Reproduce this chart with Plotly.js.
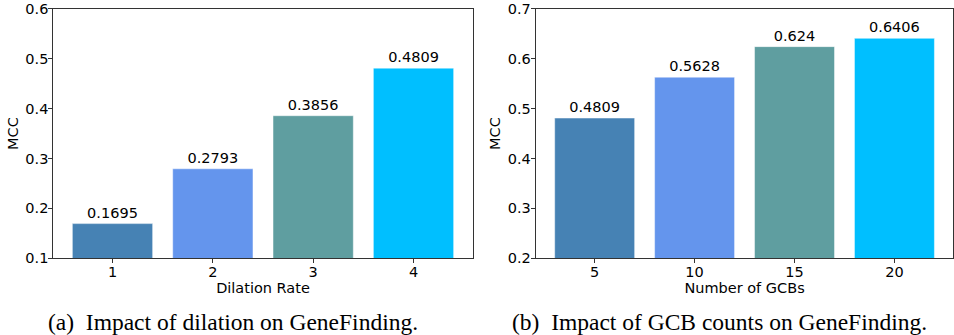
<!DOCTYPE html>
<html>
<head>
<meta charset="utf-8">
<script src="https://cdn.plot.ly/plotly-3.0.1.min.js"></script>
<style>html,body{margin:0;padding:0;background:#fff;}#chart{width:954px;height:335px;}</style>
</head>
<body>
<div id="chart"></div>
<script>
// Data
const dilationRates = ['1', '2', '3', '4'];
const dilationMCC = [0.1695, 0.2793, 0.3856, 0.4809];
const gcbCounts = ['5', '10', '15', '20'];
const gcbMCC = [0.4809, 0.5628, 0.624, 0.6406];
const dilationLabels = ['0.1695', '0.2793', '0.3856', '0.4809'];
const gcbLabels = ['0.4809', '0.5628', '0.624', '0.6406'];
const barColors = ['#4682B4', '#6495ED', '#5F9EA0', '#00BFFF'];
const captionA = '(a)\u00a0\u00a0Impact of dilation on GeneFinding.';
const captionB = '(b)\u00a0\u00a0Impact of GCB counts on GeneFinding.';

const W = 954, H = 335;
const font = 'DejaVu Sans, sans-serif';
const fs = 14.5;

function bar(x, y, labels, xa, ya) {
  return {
    type: 'bar', x: x, y: y, xaxis: xa, yaxis: ya,
    width: 0.8,
    marker: {color: barColors, line: {color: 'rgba(255,255,255,0.45)', width: 1}},
    text: labels, textposition: 'outside', cliponaxis: false,
    textfont: {family: font, size: fs, color: '#000'},
    hoverinfo: 'skip', showlegend: false
  };
}

const yTop = 1 - 8.7 / H, yBot = 1 - 258.3 / H;

function xaxisCfg(dom, title) {
  return {
    domain: dom, type: 'category', range: [-0.59, 3.59],
    showline: true, mirror: true, linecolor: '#333', linewidth: 1,
    ticks: 'outside', ticklen: 4, tickcolor: '#333', tickwidth: 1,
    ticklabelstandoff: -4,
    tickfont: {family: font, size: fs, color: '#000'},
    showgrid: false, zeroline: false, fixedrange: true,
    title: {text: title, font: {family: font, size: fs, color: '#000'}, standoff: 0}
  };
}
function yaxisCfg(range, dtick, anchor) {
  return {
    domain: [yBot, yTop], range: range, anchor: anchor,
    tick0: range[0], dtick: dtick, tickformat: '.1f',
    showline: true, mirror: true, linecolor: '#333', linewidth: 1,
    ticks: 'outside', ticklen: 4, tickcolor: '#333', tickwidth: 1,
    ticklabelstandoff: -3,
    tickfont: {family: font, size: fs, color: '#000'},
    showgrid: false, zeroline: false, fixedrange: true,
    title: {text: 'MCC', font: {family: font, size: fs, color: '#000'}, standoff: 3}
  };
}

const data = [
  bar(dilationRates, dilationMCC, dilationLabels, 'x', 'y'),
  bar(gcbCounts, gcbMCC, gcbLabels, 'x2', 'y2')
];

const layout = {
  width: W, height: H,
  margin: {l: 0, r: 0, t: 0, b: 0},
  paper_bgcolor: '#fff', plot_bgcolor: '#fff',
  bargap: 0.2,
  xaxis: Object.assign(xaxisCfg([53.3 / W, 472.7 / W], 'Dilation Rate'), {anchor: 'y'}),
  yaxis: yaxisCfg([0.1, 0.6], 0.1, 'x'),
  xaxis2: Object.assign(xaxisCfg([535.7 / W, 953.4 / W], 'Number of GCBs'), {anchor: 'y2'}),
  yaxis2: yaxisCfg([0.2, 0.7], 0.1, 'x2'),
  annotations: [
    {text: captionA, xref: 'paper', yref: 'paper', x: 233 / W, y: 1 - 322 / H,
     xanchor: 'center', yanchor: 'middle', showarrow: false,
     font: {family: 'Liberation Serif, Times New Roman, serif', size: 23.5, color: '#000'}},
    {text: captionB, xref: 'paper', yref: 'paper', x: 719 / W, y: 1 - 322 / H,
     xanchor: 'center', yanchor: 'middle', showarrow: false,
     font: {family: 'Liberation Serif, Times New Roman, serif', size: 23.5, color: '#000'}}
  ]
};

Plotly.newPlot('chart', data, layout, {displayModeBar: false, staticPlot: true});
</script>
</body>
</html>
